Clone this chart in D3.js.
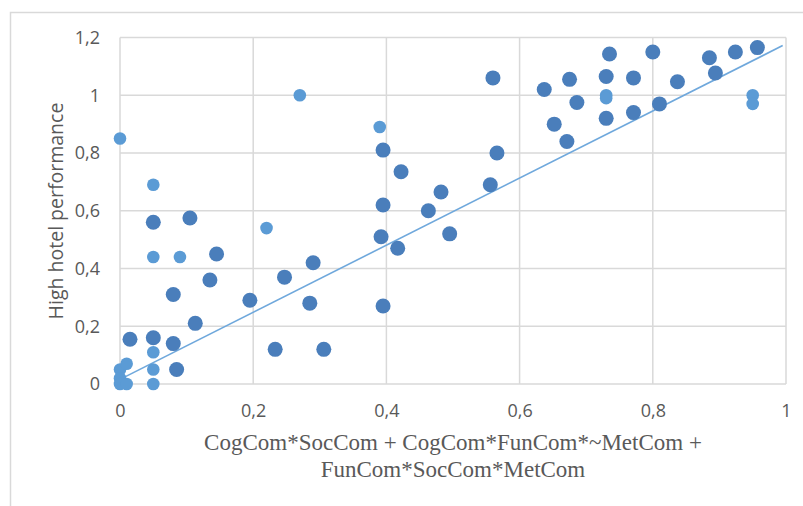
<!DOCTYPE html>
<html>
<head>
<meta charset="utf-8">
<script src="https://cdn.jsdelivr.net/npm/d3@7"></script>
<style>
  body { margin: 0; background: #fff; }
  svg { display: block; }
</style>
</head>
<body>
<div id="chart"></div>
<script>
// data: [x, y]
var darkPoints = [
  [0.05, 0.56], [0.105, 0.575], [0.145, 0.45], [0.135, 0.36], [0.08, 0.31],
  [0.195, 0.29], [0.113, 0.21], [0.015, 0.155], [0.05, 0.16], [0.08, 0.14],
  [0.085, 0.05], [0.247, 0.37], [0.29, 0.42], [0.285, 0.28], [0.233, 0.12],
  [0.306, 0.12], [0.395, 0.81], [0.422, 0.735], [0.395, 0.62], [0.392, 0.51],
  [0.417, 0.47], [0.395, 0.27], [0.463, 0.6], [0.482, 0.665], [0.495, 0.52],
  [0.566, 0.8], [0.556, 0.69], [0.56, 1.06], [0.637, 1.02], [0.675, 1.055],
  [0.686, 0.975], [0.652, 0.9], [0.671, 0.84], [0.735, 1.143], [0.73, 1.065],
  [0.73, 0.92], [0.771, 1.06], [0.771, 0.94], [0.8, 1.15], [0.81, 0.97],
  [0.837, 1.047], [0.885, 1.13], [0.894, 1.077], [0.924, 1.15], [0.957, 1.165]
];
var lightPoints = [
  [0, 0.85], [0.05, 0.69], [0.05, 0.44], [0.09, 0.44], [0.22, 0.54],
  [0.27, 1.0], [0.39, 0.89], [0.73, 1.0], [0.73, 0.99], [0.95, 1.0],
  [0.95, 0.97], [0, 0.05], [0.01, 0.07], [0, 0.02], [0, 0], [0.01, 0],
  [0.05, 0.11], [0.05, 0.05], [0.05, 0]
];
// linear trendline
var trendLine = [[0, 0.016], [0.995, 1.172]];
var xTicks = [0, 0.2, 0.4, 0.6, 0.8, 1];
var yTicks = [0, 0.2, 0.4, 0.6, 0.8, 1, 1.2];
var yTitle = "High hotel performance";
var xTitle = ["CogCom*SocCom + CogCom*FunCom*~MetCom +", "FunCom*SocCom*MetCom"];

var svgWidth = 803, svgHeight = 506;
var margin = { top: 37.5, left: 120 };
var width = 666, height = 346.5;

var svg = d3.select("#chart").append("svg")
  .attr("width", svgWidth)
  .attr("height", svgHeight);

// chart area border (only top and left visible)
svg.append("path")
  .attr("d", "M10.5," + svgHeight + "V12.5H" + svgWidth)
  .attr("fill", "none")
  .attr("stroke", "#d9d9d9")
  .attr("stroke-width", 1.5);

var g = svg.append("g")
  .attr("transform", "translate(" + margin.left + "," + margin.top + ")");

var x = d3.scaleLinear().domain([0, 1]).range([0, width]);
var y = d3.scaleLinear().domain([0, 1.2]).range([height, 0]);

var fmt = function (d) { return d3.format("~g")(+d.toFixed(1)).replace(".", ","); };

// gridlines
g.append("g").selectAll("line.v")
  .data(xTicks)
  .enter().append("line")
  .attr("x1", function (d) { return x(d); })
  .attr("x2", function (d) { return x(d); })
  .attr("y1", 0).attr("y2", height)
  .attr("stroke", "#d9d9d9").attr("stroke-width", 1.5);

g.append("g").selectAll("line.h")
  .data(yTicks)
  .enter().append("line")
  .attr("x1", 0).attr("x2", width)
  .attr("y1", function (d) { return y(d); })
  .attr("y2", function (d) { return y(d); })
  .attr("stroke", "#d9d9d9").attr("stroke-width", 1.5);

// axes (labels only)
var xAxis = d3.axisBottom(x).tickValues(xTicks).tickSize(0).tickPadding(20).tickFormat(fmt);
var yAxis = d3.axisLeft(y).tickValues(yTicks).tickSize(0).tickPadding(20).tickFormat(fmt);

g.append("g")
  .attr("transform", "translate(0," + height + ")")
  .call(xAxis)
  .call(function (s) { s.select(".domain").remove(); });

g.append("g")
  .call(yAxis)
  .call(function (s) { s.select(".domain").remove(); });

g.selectAll(".tick text")
  .attr("fill", "#595959")
  .style("font-family", "'Open Sans', sans-serif")
  .style("font-size", "18px");

// trendline
g.append("line")
  .attr("x1", x(trendLine[0][0])).attr("y1", y(trendLine[0][1]))
  .attr("x2", x(trendLine[1][0])).attr("y2", y(trendLine[1][1]))
  .attr("stroke", "#6fa8dc").attr("stroke-width", 1.6);

// points
g.append("g").selectAll("circle")
  .data(darkPoints)
  .enter().append("circle")
  .attr("cx", function (d) { return x(d[0]); })
  .attr("cy", function (d) { return y(d[1]); })
  .attr("r", 7.5)
  .attr("fill", "#4a7ebb");

g.append("g").selectAll("circle")
  .data(lightPoints)
  .enter().append("circle")
  .attr("cx", function (d) { return x(d[0]); })
  .attr("cy", function (d) { return y(d[1]); })
  .attr("r", 6.3)
  .attr("fill", "#5b9bd5");

// axis titles
svg.append("text")
  .attr("transform", "translate(63,211) rotate(-90)")
  .attr("text-anchor", "middle")
  .attr("fill", "#595959")
  .style("font-family", "'Open Sans', sans-serif")
  .style("font-size", "19.5px")
  .text(yTitle);

svg.append("g").selectAll("text")
  .data(xTitle)
  .enter().append("text")
  .attr("x", 453)
  .attr("y", function (d, i) { return 450 + i * 27; })
  .attr("text-anchor", "middle")
  .attr("fill", "#595959")
  .style("font-family", "'Liberation Serif', 'Times New Roman', serif")
  .style("font-size", "23px")
  .text(function (d) { return d; });
</script>
</body>
</html>
